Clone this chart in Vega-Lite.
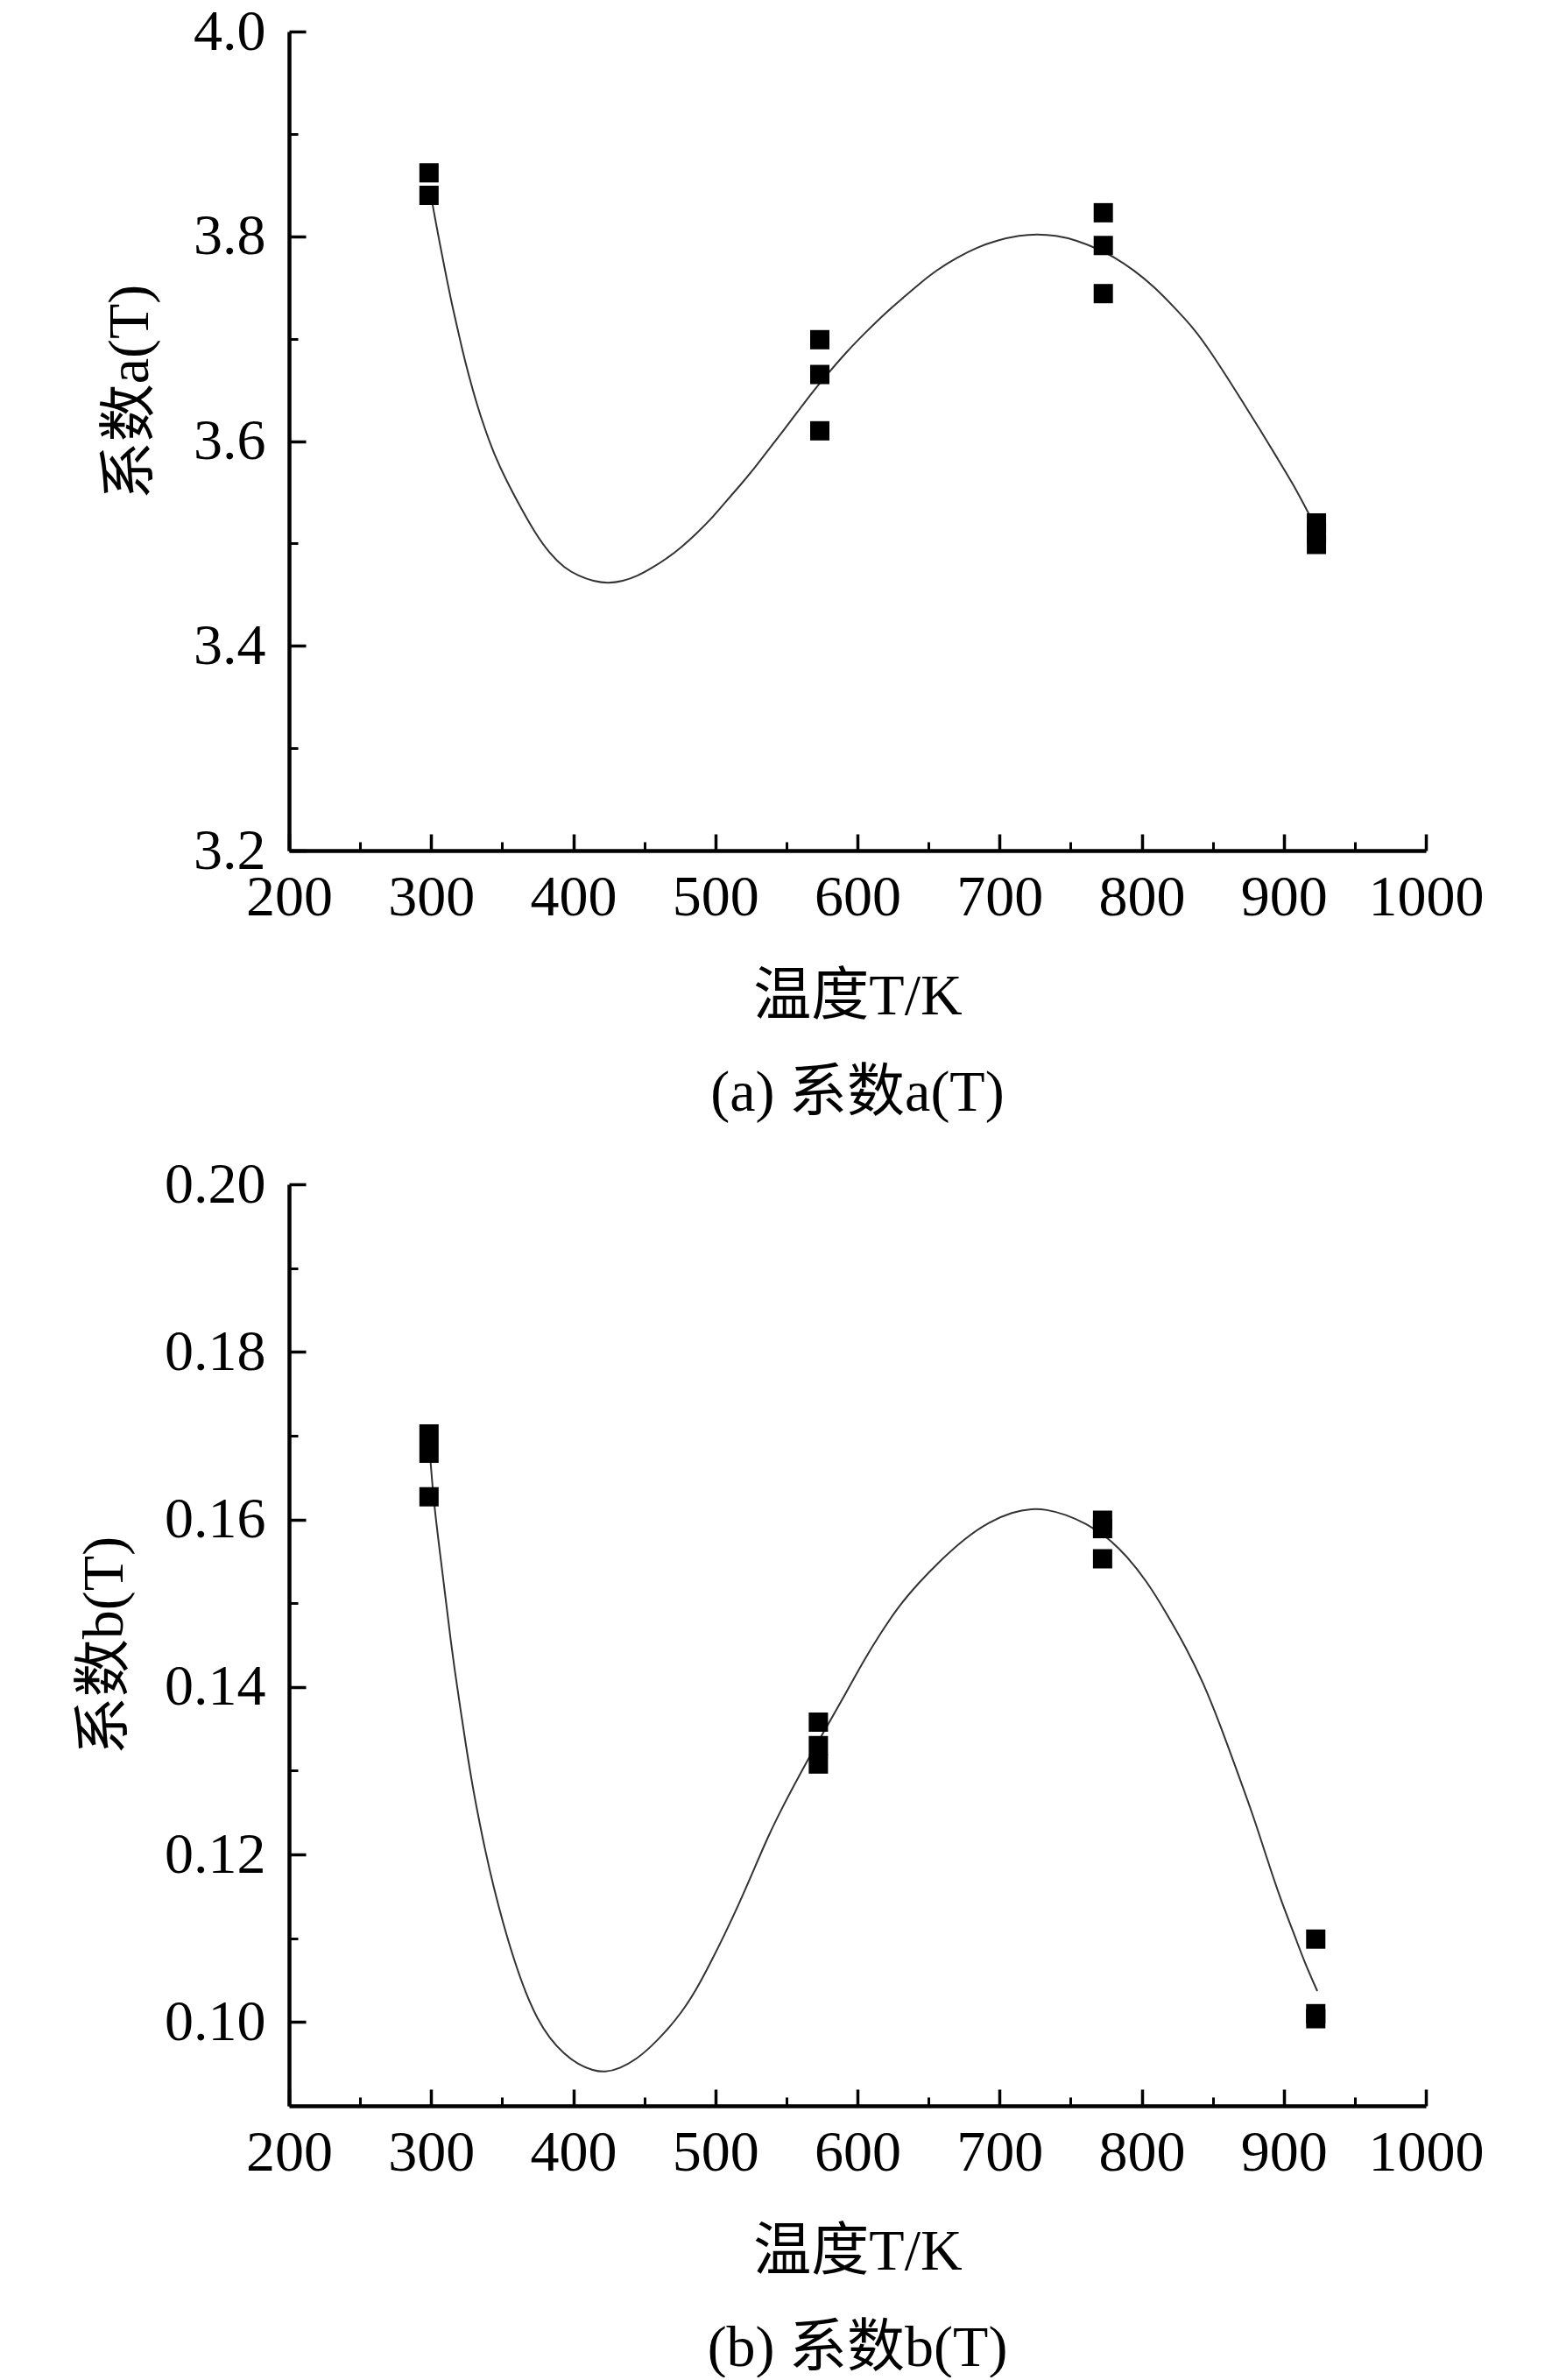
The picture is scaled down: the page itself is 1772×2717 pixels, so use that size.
{
  "$schema": "https://vega.github.io/schema/vega-lite/v6.json",
  "background": "white",
  "padding": {"left": 86, "top": 3, "right": 0, "bottom": 0},
  "spacing": 38,
  "config": {
    "view": {"stroke": null},
    "font": "Liberation Serif",
    "axis": {
      "grid": false,
      "labelFont": "Liberation Serif",
      "labelFontSize": 66,
      "labelColor": "black",
      "labelOverlap": false,
      "labelFlush": false,
      "tickColor": "black",
      "domainColor": "black",
      "titleFont": "Liberation Serif, Noto Sans CJK SC",
      "titleFontSize": 66,
      "titleFontWeight": "normal",
      "titleColor": "black"
    },
    "title": {
      "font": "Liberation Serif, Noto Sans CJK SC",
      "fontSize": 66,
      "fontWeight": "normal",
      "color": "black"
    }
  },
  "datasets": {
    "pointsA": [
      {"T": 298.5, "a": 3.862}, {"T": 298.5, "a": 3.840},
      {"T": 573.5, "a": 3.699}, {"T": 573.5, "a": 3.665}, {"T": 573.5, "a": 3.610},
      {"T": 773, "a": 3.823}, {"T": 773, "a": 3.791}, {"T": 773, "a": 3.744},
      {"T": 923, "a": 3.520}, {"T": 923, "a": 3.510}, {"T": 923, "a": 3.499}
    ],
    "curveA": [
      {"T": 299.2, "a": 3.845}, {"T": 302.3, "a": 3.821}, {"T": 305.4, "a": 3.798},
      {"T": 308.5, "a": 3.776}, {"T": 311.6, "a": 3.754}, {"T": 314.6, "a": 3.734},
      {"T": 317.7, "a": 3.715}, {"T": 321.8, "a": 3.690}, {"T": 325.9, "a": 3.667},
      {"T": 332.1, "a": 3.636}, {"T": 338.3, "a": 3.610}, {"T": 344.4, "a": 3.587},
      {"T": 352.7, "a": 3.562}, {"T": 363.0, "a": 3.535}, {"T": 373.2, "a": 3.510},
      {"T": 383.5, "a": 3.490}, {"T": 393.7, "a": 3.476}, {"T": 404.0, "a": 3.468},
      {"T": 414.3, "a": 3.463}, {"T": 424.5, "a": 3.461}, {"T": 434.8, "a": 3.463},
      {"T": 445.1, "a": 3.468}, {"T": 455.4, "a": 3.476}, {"T": 465.6, "a": 3.485},
      {"T": 475.9, "a": 3.496}, {"T": 486.2, "a": 3.509}, {"T": 496.5, "a": 3.523},
      {"T": 506.8, "a": 3.540}, {"T": 517.0, "a": 3.556}, {"T": 527.3, "a": 3.573},
      {"T": 537.6, "a": 3.592}, {"T": 547.8, "a": 3.610}, {"T": 558.1, "a": 3.629},
      {"T": 568.4, "a": 3.648}, {"T": 578.6, "a": 3.665}, {"T": 592.2, "a": 3.687},
      {"T": 606.3, "a": 3.707}, {"T": 620.4, "a": 3.726}, {"T": 632.2, "a": 3.740},
      {"T": 643.9, "a": 3.754}, {"T": 655.7, "a": 3.767}, {"T": 669.8, "a": 3.779},
      {"T": 683.9, "a": 3.789}, {"T": 698.0, "a": 3.796}, {"T": 714.5, "a": 3.801},
      {"T": 726.2, "a": 3.802}, {"T": 739.2, "a": 3.801}, {"T": 754.5, "a": 3.796},
      {"T": 768.6, "a": 3.788}, {"T": 780.4, "a": 3.780}, {"T": 794.5, "a": 3.767},
      {"T": 808.6, "a": 3.751}, {"T": 822.7, "a": 3.731}, {"T": 836.8, "a": 3.710},
      {"T": 848.6, "a": 3.687}, {"T": 860.3, "a": 3.662}, {"T": 872.1, "a": 3.636},
      {"T": 883.8, "a": 3.610}, {"T": 895.6, "a": 3.583}, {"T": 907.4, "a": 3.556},
      {"T": 916.8, "a": 3.531}, {"T": 922.7, "a": 3.516}
    ],
    "pointsB": [
      {"T": 298.5, "b": 0.1702}, {"T": 298.5, "b": 0.1679}, {"T": 298.5, "b": 0.1627},
      {"T": 572.5, "b": 0.1358}, {"T": 572.5, "b": 0.1330}, {"T": 572.5, "b": 0.1308},
      {"T": 772.5, "b": 0.1599}, {"T": 772.5, "b": 0.1589}, {"T": 772.5, "b": 0.1553},
      {"T": 922.5, "b": 0.1099}, {"T": 922.5, "b": 0.1010}, {"T": 922.5, "b": 0.1004}
    ],
    "curveB": [
      {"T": 299.6, "b": 0.1669}, {"T": 301.3, "b": 0.1632}, {"T": 304.1, "b": 0.1589},
      {"T": 307.2, "b": 0.1547}, {"T": 310.3, "b": 0.1504}, {"T": 313.3, "b": 0.1462},
      {"T": 316.4, "b": 0.1422}, {"T": 320.5, "b": 0.1375}, {"T": 324.6, "b": 0.1329},
      {"T": 328.7, "b": 0.1286}, {"T": 332.9, "b": 0.1248}, {"T": 338.0, "b": 0.1205},
      {"T": 344.1, "b": 0.1160}, {"T": 350.3, "b": 0.1120}, {"T": 358.5, "b": 0.1073},
      {"T": 366.7, "b": 0.1034}, {"T": 374.9, "b": 0.1003}, {"T": 383.2, "b": 0.0981},
      {"T": 393.4, "b": 0.0962}, {"T": 403.7, "b": 0.0949}, {"T": 414.0, "b": 0.0942},
      {"T": 422.2, "b": 0.0940}, {"T": 432.4, "b": 0.0944}, {"T": 444.8, "b": 0.0956},
      {"T": 455.0, "b": 0.0971}, {"T": 465.3, "b": 0.0989}, {"T": 475.6, "b": 0.1010},
      {"T": 485.8, "b": 0.1036}, {"T": 496.1, "b": 0.1069}, {"T": 506.4, "b": 0.1104},
      {"T": 516.6, "b": 0.1141}, {"T": 526.9, "b": 0.1181}, {"T": 537.2, "b": 0.1222},
      {"T": 547.4, "b": 0.1257}, {"T": 557.7, "b": 0.1290}, {"T": 568.0, "b": 0.1322},
      {"T": 578.2, "b": 0.1352}, {"T": 591.0, "b": 0.1390}, {"T": 605.2, "b": 0.1434},
      {"T": 617.0, "b": 0.1466}, {"T": 628.8, "b": 0.1496}, {"T": 642.9, "b": 0.1524},
      {"T": 657.1, "b": 0.1549}, {"T": 675.9, "b": 0.1578}, {"T": 692.5, "b": 0.1597},
      {"T": 709.0, "b": 0.1609}, {"T": 723.1, "b": 0.1613}, {"T": 732.5, "b": 0.1612},
      {"T": 746.7, "b": 0.1606}, {"T": 760.8, "b": 0.1595}, {"T": 775.0, "b": 0.1580},
      {"T": 789.2, "b": 0.1557}, {"T": 803.3, "b": 0.1527}, {"T": 817.5, "b": 0.1488},
      {"T": 831.6, "b": 0.1446}, {"T": 843.4, "b": 0.1405}, {"T": 855.2, "b": 0.1355},
      {"T": 867.0, "b": 0.1300}, {"T": 878.8, "b": 0.1245}, {"T": 888.2, "b": 0.1195},
      {"T": 897.6, "b": 0.1147}, {"T": 907.1, "b": 0.1106}, {"T": 914.2, "b": 0.1073},
      {"T": 923.6, "b": 0.1037}
    ]
  },
  "vconcat": [
    {
      "width": 1298,
      "height": 935,
      "title": {"text": "(a) 系数a(T)", "orient": "bottom", "anchor": "middle", "frame": "group", "offset": 46},
      "layer": [
        {
          "data": {"name": "curveA"},
          "mark": {"type": "line", "color": "#333333", "strokeWidth": 2, "interpolate": "basis"},
          "encoding": {
            "x": {
              "field": "T", "type": "quantitative",
              "scale": {"domain": [200, 1000], "nice": false},
              "axis": {"orient": "bottom", "values": [250, 350, 450, 550, 650, 750, 850, 950], "labels": false, "domain": false, "tickSize": -10, "tickWidth": 3, "title": null}
            },
            "y": {
              "field": "a", "type": "quantitative",
              "scale": {"domain": [3.2, 4.0], "nice": false, "zero": false},
              "axis": {"orient": "left", "values": [3.3, 3.5, 3.7, 3.9], "labels": false, "domain": false, "tickSize": -10, "tickWidth": 3, "title": null}
            }
          }
        },
        {
          "data": {"name": "pointsA"},
          "mark": {"type": "point", "shape": "square", "filled": true, "color": "black", "opacity": 1, "size": 484, "strokeWidth": 0},
          "encoding": {
            "x": {
              "field": "T", "type": "quantitative",
              "scale": {"domain": [200, 1000], "nice": false},
              "axis": {"orient": "bottom", "values": [200, 300, 400, 500, 600, 700, 800, 900, 1000], "format": "d", "tickSize": -19, "tickWidth": 3.5, "domainWidth": 4.5, "labelPadding": 40, "title": "温度T/K", "titlePadding": 48}
            },
            "y": {
              "field": "a", "type": "quantitative",
              "scale": {"domain": [3.2, 4.0], "nice": false, "zero": false},
              "axis": {"orient": "left", "values": [3.2, 3.4, 3.6, 3.8, 4.0], "format": ".1f", "tickSize": -19, "tickWidth": 3.5, "domainWidth": 4.5, "labelPadding": 46, "title": "系数a(T)", "titlePadding": 38, "titleY": 411}
            }
          }
        }
      ],
      "resolve": {"axis": {"x": "independent", "y": "independent"}}
    },
    {
      "width": 1298,
      "height": 1052,
      "title": {"text": "(b) 系数b(T)", "orient": "bottom", "anchor": "middle", "frame": "group", "offset": 46},
      "layer": [
        {
          "data": {"name": "curveB"},
          "mark": {"type": "line", "color": "#333333", "strokeWidth": 2, "interpolate": "basis"},
          "encoding": {
            "x": {
              "field": "T", "type": "quantitative",
              "scale": {"domain": [200, 1000], "nice": false},
              "axis": {"orient": "bottom", "values": [250, 350, 450, 550, 650, 750, 850, 950], "labels": false, "domain": false, "tickSize": -10, "tickWidth": 3, "title": null}
            },
            "y": {
              "field": "b", "type": "quantitative",
              "scale": {"domain": [0.09, 0.2], "nice": false, "zero": false},
              "axis": {"orient": "left", "values": [0.11, 0.13, 0.15, 0.17, 0.19], "labels": false, "domain": false, "tickSize": -10, "tickWidth": 3, "title": null}
            }
          }
        },
        {
          "data": {"name": "pointsB"},
          "mark": {"type": "point", "shape": "square", "filled": true, "color": "black", "opacity": 1, "size": 484, "strokeWidth": 0},
          "encoding": {
            "x": {
              "field": "T", "type": "quantitative",
              "scale": {"domain": [200, 1000], "nice": false},
              "axis": {"orient": "bottom", "values": [200, 300, 400, 500, 600, 700, 800, 900, 1000], "format": "d", "tickSize": -19, "tickWidth": 3.5, "domainWidth": 4.5, "labelPadding": 40, "title": "温度T/K", "titlePadding": 48}
            },
            "y": {
              "field": "b", "type": "quantitative",
              "scale": {"domain": [0.09, 0.2], "nice": false, "zero": false},
              "axis": {"orient": "left", "values": [0.1, 0.12, 0.14, 0.16, 0.18, 0.2], "format": ".2f", "tickSize": -19, "tickWidth": 3.5, "domainWidth": 4.5, "labelPadding": 46, "title": "系数b(T)", "titlePadding": 34}
            }
          }
        }
      ],
      "resolve": {"axis": {"x": "independent", "y": "independent"}}
    }
  ]
}
